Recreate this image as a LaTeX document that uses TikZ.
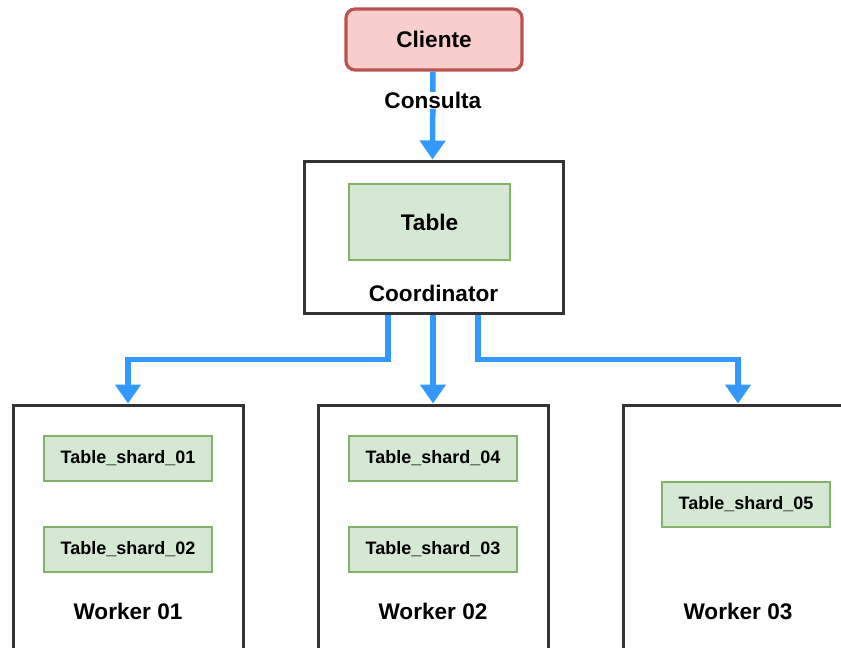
\documentclass[tikz,border=0pt]{standalone}
\usepackage{fontspec}
\setmainfont{Liberation Sans}
\usetikzlibrary{arrows.meta}
\definecolor{flowblue}{RGB}{51,153,255}
\definecolor{boxline}{RGB}{51,51,51}
\definecolor{redfill}{RGB}{248,206,204}
\definecolor{redline}{RGB}{184,84,80}
\definecolor{greenfill}{RGB}{213,232,212}
\definecolor{greenline}{RGB}{130,179,102}
\tikzset{
  bigtext/.style={font=\fontsize{22.6}{26}\selectfont\bfseries},
  smalltext/.style={font=\fontsize{18}{21}\selectfont\bfseries},
  client/.style={draw=redline, fill=redfill, line width=3.2pt, rounded corners=9pt,
    minimum width=176pt, minimum height=61pt, inner sep=0pt, bigtext},
  server/.style={draw=boxline, fill=white, line width=3pt, inner sep=0pt},
  tablebox/.style={draw=greenline, fill=greenfill, line width=1.3pt,
    minimum width=161pt, minimum height=76pt, inner sep=0pt, bigtext},
  shard/.style={draw=greenline, fill=greenfill, line width=1.3pt,
    minimum width=168pt, minimum height=45pt, inner sep=0pt, smalltext},
  caption/.style={inner sep=0pt, bigtext},
  flow/.style={draw=flowblue, line width=5.5pt,
    -{Triangle[length=19pt,width=25pt]}},
}
\begin{document}
\begin{tikzpicture}[x=1pt,y=-1pt]
  \useasboundingbox (0,0) rectangle (841,648);
  \clip (0,0) rectangle (841,648);

  % client
  \node[client] (cli) at (434,39.5) {Cliente};

  % coordinator with its table
  \node[server, minimum width=259pt, minimum height=152pt] (coord) at (433.5,237) {};
  \node[tablebox] (tbl) at (429.5,222) {Table};
  \node[caption] (coordlbl) at (433.5,293) {Coordinator};

  % workers
  \node[server, minimum width=230pt, minimum height=255pt] (w1) at (128,532.5) {};
  \node[server, minimum width=230pt, minimum height=255pt] (w2) at (433,532.5) {};
  \node[server, minimum width=230pt, minimum height=255pt] (w3) at (738,532.5) {};

  \node[shard] (s1) at (128,458.5) {Table\_shard\_01};
  \node[shard] (s2) at (128,549.5) {Table\_shard\_02};
  \node[caption] (w1lbl) at (128,611) {Worker 01};

  \node[shard] (s4) at (433,458.5) {Table\_shard\_04};
  \node[shard] (s3) at (433,549.5) {Table\_shard\_03};
  \node[caption] (w2lbl) at (433,611) {Worker 02};

  \node[shard] (s5) at (746,504.5) {Table\_shard\_05};
  \node[caption] (w3lbl) at (738,611) {Worker 03};

  % query from the client
  \draw[flow] ([xshift=-1pt]cli.south) -- ([xshift=-1pt]coord.north)
    node[fill=white, inner sep=2pt, caption, pos=0.33] (q) {Consulta};

  % fan-out to the workers
  \draw[flow] ([xshift=-45.5pt]coord.south) -- ++(0,45) -| (w1.north);
  \draw[flow] ([xshift=-0.5pt]coord.south) -- (w2.north);
  \draw[flow] ([xshift=44.5pt]coord.south) -- ++(0,45) -| (w3.north);
\end{tikzpicture}
\end{document}
